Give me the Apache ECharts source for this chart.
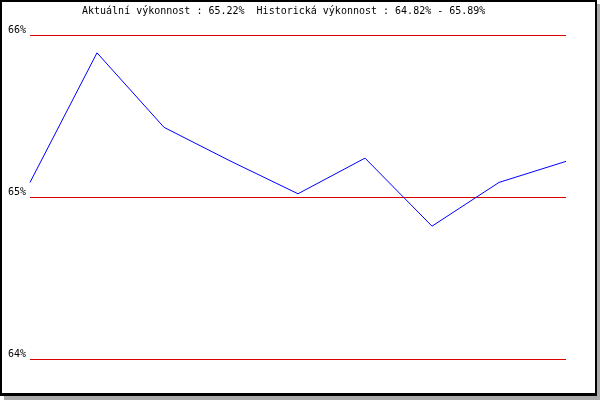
<!DOCTYPE html>
<html>
<head>
<meta charset="utf-8">
<script src="https://cdn.jsdelivr.net/npm/echarts@6/dist/echarts.min.js"></script>
<style>html,body{margin:0;padding:0;background:#fff}#c{width:600px;height:400px}</style>
</head>
<body>
<div id="c"></div>
<script>
var categories = ['1','2','3','4','5','6','7','8','9'];
var performance = [65.09, 65.89, 65.43, 65.22, 65.02, 65.24, 64.82, 65.09, 65.22];
var yTicks = [64, 65, 66];
var titleText = 'Aktuální výkonnost : 65.22%  Historická výkonnost : 64.82% - 65.89%';

var chart = echarts.init(document.getElementById('c'), null, {renderer: 'canvas'});
chart.setOption({
  animation: false,
  backgroundColor: '#fff',
  graphic: [
    {type: 'rect', z: -30, silent: true, shape: {x: 4, y: 4, width: 596, height: 396}, style: {fill: '#aaaaaa'}},
    {type: 'rect', z: -20, silent: true, shape: {x: 0, y: 0, width: 597, height: 396}, style: {fill: '#000'}},
    {type: 'rect', z: -10, silent: true, shape: {x: 2, y: 2, width: 593, height: 391}, style: {fill: '#fff'}}
  ],
  title: {
    text: titleText,
    left: 82,
    top: 6,
    padding: 0,
    textStyle: {fontFamily: 'DejaVu Sans Mono', fontSize: 10, fontWeight: 'normal', color: '#000'}
  },
  grid: {left: 30, right: 34, top: 35, bottom: 41},
  xAxis: {
    type: 'category',
    data: categories,
    boundaryGap: false,
    show: false
  },
  yAxis: {
    type: 'value',
    min: yTicks[0],
    max: yTicks[yTicks.length - 1],
    interval: 1,
    axisLine: {show: false},
    axisTick: {show: false},
    axisLabel: {
      formatter: '{value}%',
      verticalAlign: 'bottom',
      margin: 4,
      fontFamily: 'DejaVu Sans Mono',
      fontSize: 10,
      color: '#000'
    },
    splitLine: {show: true, lineStyle: {color: '#dd0000', width: 1}}
  },
  series: [{
    type: 'line',
    data: performance,
    symbol: 'none',
    lineStyle: {color: '#0000ff', width: 1}
  }]
});
</script>
</body>
</html>
